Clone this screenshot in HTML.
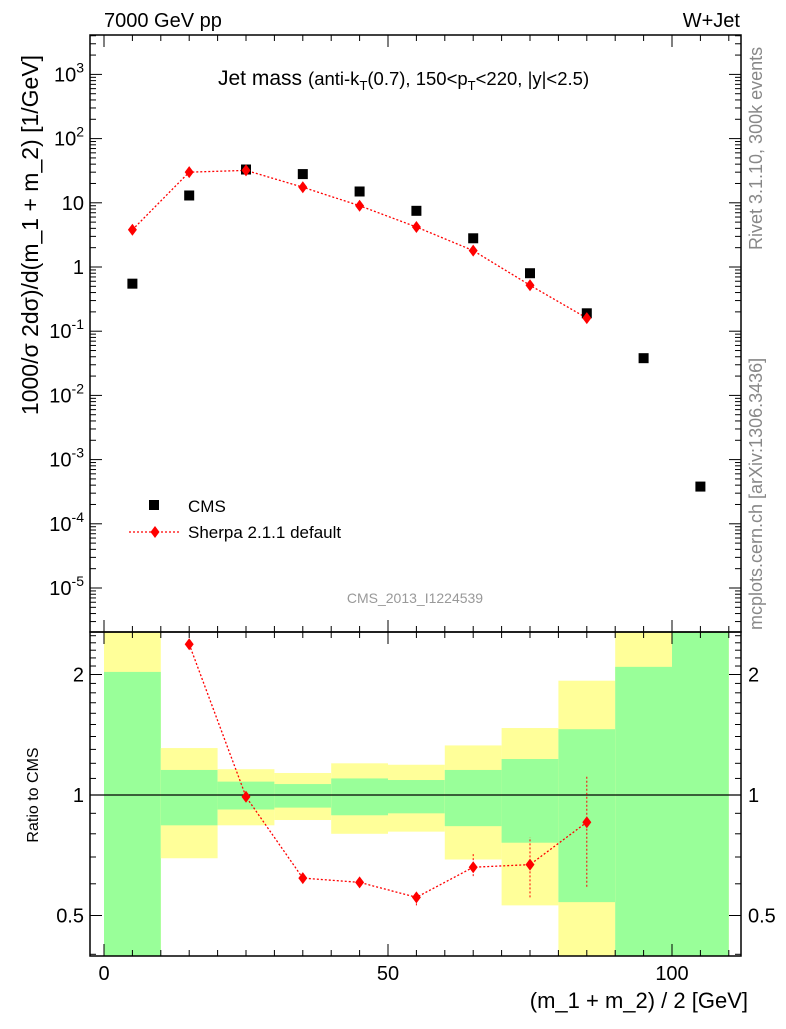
<!DOCTYPE html>
<html><head><meta charset="utf-8"><style>
body{margin:0;background:#fff;}
svg text{font-family:"Liberation Sans",sans-serif;}
</style></head><body>
<svg id="c" width="786" height="1024" xmlns="http://www.w3.org/2000/svg"></svg>
<script>
const binLo=[0,10,20,30,40,50,60,70,80,90,100];
const binHi=[10,20,30,40,50,60,70,80,90,100,110];
const cmsVals=[0.55,13,33,28,15,7.5,2.8,0.8,0.19,0.038,0.00038];
const sherpaX=[5,15,25,35,45,55,65,75,85];
const sherpaVals=[3.8,30,32,17.5,9,4.2,1.8,0.52,0.16];
const ratioVals=[null,2.38,0.99,0.62,0.605,0.555,0.66,0.67,0.855];
const ratioErrLo=[null,null,null,null,0.59,0.53,0.627,0.555,0.59];
const ratioErrHi=[null,null,null,null,0.62,0.57,0.715,0.785,1.12];
const greenHi=[2.03,1.155,1.08,1.065,1.10,1.09,1.155,1.23,1.46,2.09,3];
const greenLo=[0.3,0.84,0.92,0.93,0.89,0.90,0.836,0.76,0.54,0.3,0.3];
const yellowHi=[3,1.31,1.16,1.135,1.20,1.19,1.33,1.47,1.93,3,3];
const yellowLo=[0.3,0.695,0.84,0.866,0.80,0.81,0.69,0.53,0.3,0.3,0.3];
const yTickExp=[-5,-4,-3,-2,-1,0,1,2,3];
const xTicks=[0,50,100];
const rTicks=[0.5,1,2];

const S=document.getElementById('c'),NS='http://www.w3.org/2000/svg';
function el(t,a,p){const e=document.createElementNS(NS,t);for(const k in a)e.setAttribute(k,a[k]);(p||S).appendChild(e);return e;}
const L=90,R=741,T=35,MB=632,RB=956;
const X=v=>104+v*5.68;
const Y=v=>267-64.2*Math.log10(v);
const RY=v=>795-120.5*Math.log2(v);
const bands=el('g',{});
function cl(y){return Math.max(MB,Math.min(RB,y));}
for(let i=0;i<binLo.length;i++){
 const x0=X(binLo[i]),x1=X(binHi[i]);
 let r=el('rect',{x:x0,y:cl(RY(yellowHi[i])),width:x1-x0,height:cl(RY(yellowLo[i]))-cl(RY(yellowHi[i])),fill:'#ffff99'},bands);
 
 r=el('rect',{x:x0,y:cl(RY(greenHi[i])),width:x1-x0,height:cl(RY(greenLo[i]))-cl(RY(greenHi[i])),fill:'#99ff99'},bands);
 
}
el('line',{x1:L,x2:R,y1:RY(1),y2:RY(1),stroke:'#000','stroke-width':1.3});
el('rect',{x:L,y:T,width:R-L,height:MB-T,fill:'none',stroke:'#000','stroke-width':1.5});
el('rect',{x:L,y:MB,width:R-L,height:RB-MB,fill:'none',stroke:'#000','stroke-width':1.5});
for(let v=0;v<=110;v+=10){const big=v%50==0,len=big?12:6;
 for(const [yb,yt] of [[MB,T],[RB,MB]]){el('line',{x1:X(v),x2:X(v),y1:yb,y2:yb-len,stroke:'#000'});el('line',{x1:X(v),x2:X(v),y1:yt,y2:yt+len,stroke:'#000'});}}
for(let v=5;v<=110;v+=10){for(const [yb,yt] of [[MB,T],[RB,MB]]){el('line',{x1:X(v),x2:X(v),y1:yb,y2:yb-6,stroke:'#000'});el('line',{x1:X(v),x2:X(v),y1:yt,y2:yt+6,stroke:'#000'});}}
xTicks.forEach(v=>{const t=el('text',{x:X(v),y:980,'font-size':20,'text-anchor':'middle'});t.textContent=v;});
for(let e=-6;e<=3;e++){for(let m=1;m<10;m++){const y=Y(m*Math.pow(10,e));if(y<T||y>MB)continue;const len=m==1?12:6;
 el('line',{x1:L,x2:L+len,y1:y,y2:y,stroke:'#000'});el('line',{x1:R,x2:R-len,y1:y,y2:y,stroke:'#000'});}}
yTickExp.forEach(e=>{const t=el('text',{x:84,y:Y(Math.pow(10,e))+7,'font-size':20,'text-anchor':'end'});
 
 if(e==0)t.textContent='1';else if(e==1)t.textContent='10';else{t.textContent='10';const s=el('tspan',{dy:-9,'font-size':14},t);s.textContent=e;}});
[0.4,0.5,0.6,0.7,0.8,0.9,1,1.1,1.2,1.3,1.4,1.5,1.6,1.7,1.8,1.9,2,2.1,2.2,2.3,2.4,2.5].forEach(v=>{const y=RY(v);if(y<MB||y>RB)return;const len=(v==0.5||v==1||v==2)?12:6;
 el('line',{x1:L,x2:L+len,y1:y,y2:y,stroke:'#000'});el('line',{x1:R,x2:R-len,y1:y,y2:y,stroke:'#000'});});
rTicks.forEach(v=>{for(const [x,a] of [[84,'end'],[748,'start']]){const t=el('text',{x:x,y:RY(v)+7,'font-size':20,'text-anchor':a});t.textContent=v;}});
const sl=el('polyline',{points:sherpaX.map((x,i)=>X(x)+','+Y(sherpaVals[i])).join(' '),fill:'none',stroke:'red','stroke-width':1.3,'stroke-dasharray':'2,2'});

function diamond(x,y,name){const d=el('polygon',{points:`${x},${y-6} ${x+4.5},${y} ${x},${y+6} ${x-4.5},${y}`,fill:'red'});}
cmsVals.forEach((v,i)=>{const x=X((binLo[i]+binHi[i])/2),y=Y(v);const r=el('rect',{x:x-5,y:y-5,width:10,height:10,fill:'#000'});});
sherpaX.forEach((x,i)=>diamond(X(x),Y(sherpaVals[i]),'sherpa-point'));
const pts=[];sherpaX.forEach((x,i)=>{if(ratioVals[i]!=null)pts.push(X(x)+','+RY(ratioVals[i]));});
const rl=el('polyline',{points:pts.join(' '),fill:'none',stroke:'red','stroke-width':1.3,'stroke-dasharray':'2,2'});

sherpaX.forEach((x,i)=>{if(ratioVals[i]==null)return;if(ratioErrLo[i]!=null){el('line',{x1:X(x),x2:X(x),y1:RY(ratioErrLo[i]),y2:RY(ratioErrHi[i]),stroke:'red','stroke-dasharray':'2,2'});}diamond(X(x),RY(ratioVals[i]),'ratio-point');});
function txt(x,y,s,sz,a,name,col,rot){const t=el('text',{x:x,y:y,'font-size':sz,'text-anchor':a||'start',fill:col||'#000'});if(rot)t.setAttribute('transform',`rotate(-90 ${x} ${y})`);t.textContent=s;return t;}
txt(104,27,'7000 GeV pp',20,'start','energy-label');
txt(740,27,'W+Jet',20,'end','process-label');
const tt=txt(218,85,'Jet mass',21,'start','plot-title');
const t2=el('tspan',{'font-size':18.5,dx:6},tt);t2.textContent='(anti-k';
let s=el('tspan',{'font-size':13,dy:5},tt);s.textContent='T';
s=el('tspan',{'font-size':18.5,dy:-5},tt);s.textContent='(0.7), 150<p';
s=el('tspan',{'font-size':13,dy:5},tt);s.textContent='T';
s=el('tspan',{'font-size':18.5,dy:-5},tt);s.textContent='<220, |y|<2.5)';
txt(38,235,'1000/σ 2dσ)/d(m_1 + m_2) [1/GeV]',23,'middle','y-axis-title','#000',true);
txt(38,795,'Ratio to CMS',16,'middle','ratio-axis-title','#000',true);
txt(748,1008,'(m_1 + m_2) / 2 [GeV]',22,'end','x-axis-title');
txt(415,603,'CMS_2013_I1224539',14,'middle','analysis-label','#999');
txt(762,250,'Rivet 3.1.10,  300k events',18,'start','rivet-label','#888',true);
txt(762,630,'mcplots.cern.ch [arXiv:1306.3436]',18,'start','mcplots-label','#888',true);
el('rect',{x:149,y:500,width:10,height:10,fill:'#000'});
txt(188,512,'CMS',17,'start','legend-cms');
el('line',{x1:129,x2:181,y1:532,y2:532,stroke:'red','stroke-dasharray':'2,2','stroke-width':1.3});
diamond(155,532,'legend-sherpa-marker');
txt(188,538,'Sherpa 2.1.1 default',17,'start','legend-sherpa');
</script>
</body></html>
